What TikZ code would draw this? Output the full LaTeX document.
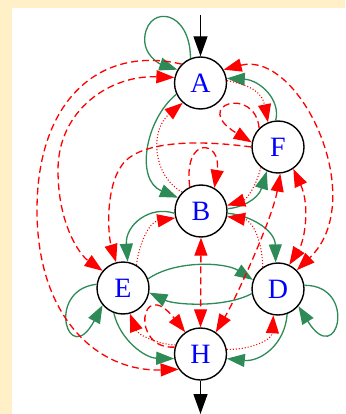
\documentclass[tikz,border=0pt]{standalone}
\usepackage{fontspec}
\setmainfont{Liberation Serif}
\usetikzlibrary{arrows.meta}
\definecolor{bgbeige}{RGB}{255,240,200}
\definecolor{gvgreen}{RGB}{46,139,87}
\begin{document}
\begin{tikzpicture}[x=1pt,y=-1pt,
  st/.style={circle,draw=black,line width=1.4pt,fill=white,minimum size=52pt,inner sep=0pt,text=blue,font=\fontsize{28}{28}\selectfont},
  gedge/.style={color=gvgreen,line width=1.3pt,-{Triangle[length=18pt,width=13pt]}},
  dedge/.style={color=red,line width=1.3pt,dash pattern=on 7pt off 4pt,-{Triangle[length=18pt,width=13pt]}},
  dedgeb/.style={color=red,line width=1.3pt,dash pattern=on 7pt off 4pt,{Triangle[length=18pt,width=13pt]}-{Triangle[length=18pt,width=13pt]}},
  tedge/.style={color=red,line width=1.1pt,dash pattern=on 1pt off 2pt,-{Triangle[length=18pt,width=13pt]}},
  kedge/.style={color=black,line width=1.3pt,-{Triangle[length=20pt,width=14pt]}}]
\useasboundingbox (0,0) rectangle (345,414);
\fill[bgbeige] (0,0) rectangle (345,414);
\fill[white] (12,8) rectangle (345,414);

\node[st] (A) at (200.5,83) {A};
\node[st] (F) at (278,147) {F};
\node[st] (B) at (201,211) {B};
\node[st] (E) at (123,288) {E};
\node[st] (D) at (278,289) {D};
\node[st] (H) at (200.5,354) {H};
\coordinate (src) at (200.5,15);
\coordinate (snk) at (200.5,414);

% black
\draw[kedge] (src) -- (A.90);
\draw[kedge] (H.270) -- (snk);

% green
\draw[gedge] (A.112) .. controls (190,10) and (150,5) .. (145,35) .. controls (142,55) and (160,64) .. (A.150);
\draw[gedge] (A.205) .. controls (145,120) and (135,180) .. (B.150);
\draw[gedge] (F.95) .. controls (281,100) and (260,80) .. (A.10);
\draw[gedge] (B.5) .. controls (240,208) and (258,200) .. (F.245);
\draw[gedge] (B.185) .. controls (150,205) and (125,225) .. (E.80);
\draw[gedge] (B.355) .. controls (250,215) and (275,230) .. (D.95);
\draw[gedge] (E.20) .. controls (175,260) and (225,262) .. (D.160);
\draw[gedge] (D.190) .. controls (225,308) and (175,305) .. (E.350);
\draw[gedge] (E.172) .. controls (45,290) and (68,370) .. (E.220);
\draw[gedge] (D.8) .. controls (358,285) and (338,370) .. (D.320);
\draw[gedge] (E.250) .. controls (120,340) and (145,358) .. (H.190);
\draw[gedge] (D.290) .. controls (285,345) and (260,362) .. (H.350);

% red dashed
\draw[dedgeb] (A.168) .. controls (110,75) and (58,110) .. (58,170) .. controls (58,225) and (80,255) .. (E.140);
\draw[dedge] (A.135) .. controls (100,45) and (37,100) .. (37,210) .. controls (37,320) and (100,372) .. (H.215);
\draw[dedgeb] (A.30) .. controls (300,50) and (370,200) .. (D.45);
\draw[dedge] (F.180) .. controls (200,140) and (140,140) .. (122,165) .. controls (105,188) and (108,235) .. (E.105);
\draw[dedge] (F.135) .. controls (255,85) and (190,105) .. (F.170);
\draw[dedge] (B.115) .. controls (183,135) and (222,140) .. (B.60);
\draw[dedgeb] (B.270) -- (H.90);
\draw[dedgeb] (F.275) .. controls (272,220) and (235,300) .. (H.55);
\draw[dedgeb] (F.305) .. controls (310,205) and (305,240) .. (D.65);
\draw[dedge] (H.165) .. controls (130,350) and (140,275) .. (H.125);

% red dotted
\draw[tedge] (B.135) .. controls (152,175) and (150,130) .. (A.228);
\draw[tedge] (A.5) .. controls (250,85) and (262,92) .. (F.112);
\draw[tedge] (F.230) .. controls (255,190) and (245,200) .. (B.12);
\draw[tedge] (D.125) .. controls (262,235) and (250,220) .. (B.348);
\draw[tedge] (E.60) .. controls (140,240) and (150,222) .. (B.195);
\draw[tedge] (H.160) .. controls (160,345) and (138,335) .. (E.285);
\draw[tedge] (H.10) .. controls (250,350) and (272,340) .. (D.260);
\end{tikzpicture}
\end{document}
